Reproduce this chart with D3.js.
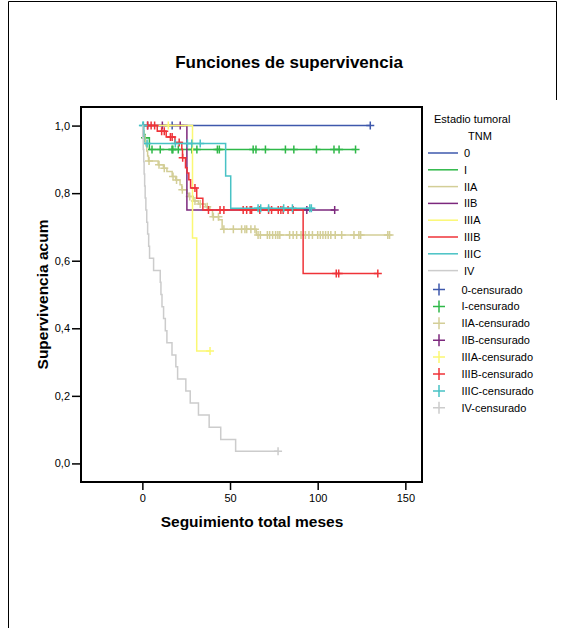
<!DOCTYPE html>
<html><head><meta charset="utf-8">
<script src="https://cdn.jsdelivr.net/npm/d3@7"></script>
<style>body{margin:0;background:#fff} text{font-family:"Liberation Sans",Arial,sans-serif;fill:#000}</style>
</head><body><svg id="c" width="561" height="628"></svg>
<script>
const groups = ["0","I","IIA","IIB","IIIA","IIIB","IIIC","IV"];
const colors = ["#3e58ac","#2eb848","#d3ce97","#7c287d","#fbf873","#ef3338","#48c2c5","#cccccc"];
const xTicks = [0,50,100,150];
const yTicks = [0,0.2,0.4,0.6,0.8,1.0];

// Stage 0
const evT_0 = [], evS_0 = [];
const cen_0 = [17,130];
// Stage I
const evT_I = [0.5,4], evS_I = [0.964,0.929];
const cen_I = [1.5,5.5,10.2,16.9,17.4,20.5,28.2,31.1,42.8,43.9,63.2,64.8,70.2,81.6,86.4,99.3,109.3,112.2,121.6];
// Stage IIA
const evT_IIA = [0.5,1,1.5,2,2.5,3,3.5,9,12,14,17,19,21.5,22.5,25.5,26.5,29,32,36,38.5,40,43.5,45.5,65];
const evS_IIA = [0.985,0.97,0.955,0.94,0.925,0.91,0.895,0.884,0.874,0.864,0.849,0.839,0.825,0.81,0.8,0.79,0.777,0.768,0.76,0.75,0.73,0.721,0.693,0.676];
const cen_IIA = [3.8,9.5,12.5,17.5,19.5,22.8,27,30,33,37,40.5,43.4,46.5,51.9,56.6,58.5,59.5,61.9,64.2,66,67.3,71.3,72.6,74.3,76,77.3,78.4,84,86,88,90.5,93,95,97,100,101.5,103,104.5,106,107.5,110,113.7,120.7,123.5,124.5,140,141];
// Stage IIB
const evT_IIB = [25.4], evS_IIB = [0.75];
const cen_IIB = [3,11.4,21.6,93.8,109.7];
// Stage IIIA
const evT_IIIA = [28.6,31], evS_IIIA = [0.667,0.333];
const cen_IIIA = [14.8,38.6];
// Stage IIIB
const evT_IIIB = [8.5,13.6,18.6,22.5,22.9,24.6,25.5,26.5,27.5,31,34.5,91.7];
const evS_IIIB = [0.983,0.966,0.95,0.93,0.905,0.875,0.86,0.84,0.815,0.785,0.75,0.5625];
const cen_IIIB = [3,5,7,11,12.5,16,17,21,23,30,37.7,44.3,46.5,57.5,59.5,61.5,62.3,67,72,73.7,77.5,79,80.3,83.1,86,110.6,112,134.3];
// Stage IIIC
const evT_IIIC = [0.8,47.5,50.4], evS_IIIC = [0.947,0.851,0.755];
const cen_IIIC = [0.3,0.6,2.7,18.8,25.7,28.2,33,66,67.5,72,80.6,85.6,95.5,96.4];
// Stage IV
const evT_IV = [0.2,0.5,0.8,1,1.3,1.6,2,2.5,3,3.6,4.1,6.4,10.2,10.6,11.2,12.1,13.1,14,16.9,19.1,20.1,24.8,27.3,32,38.1,44.7,53.2];
const evS_IV = [0.964,0.929,0.893,0.857,0.821,0.786,0.75,0.714,0.679,0.643,0.607,0.571,0.536,0.5,0.464,0.429,0.393,0.357,0.321,0.286,0.25,0.214,0.179,0.143,0.107,0.071,0.036];
const cen_IV = [77.4];

const evT = [evT_0,evT_I,evT_IIA,evT_IIB,evT_IIIA,evT_IIIB,evT_IIIC,evT_IV];
const evS = [evS_0,evS_I,evS_IIA,evS_IIB,evS_IIIA,evS_IIIB,evS_IIIC,evS_IV];
const cens = [cen_0,cen_I,cen_IIA,cen_IIB,cen_IIIA,cen_IIIB,cen_IIIC,cen_IV];

const svg = d3.select("#c");
svg.append("path").attr("d","M8.5,628 V1.5 H556.5 V100").attr("fill","none").attr("stroke","#000").attr("stroke-width",1);

const pL = 81, pR = 422, pT = 107, pB = 482;
const x = d3.scaleLinear().domain([-35,159.5]).range([pL,pR]);
const y = d3.scaleLinear().domain([-0.055,1.055]).range([pB,pT]);

svg.append("text").attr("x",289).attr("y",68).attr("text-anchor","middle")
  .style("font-size","17px").style("font-weight","bold").text("Funciones de supervivencia");

const xa = svg.append("g").attr("transform",`translate(0,${pB})`)
  .call(d3.axisBottom(x).tickValues(xTicks).tickSize(8).tickPadding(4).tickFormat(d3.format("d")));
const ya = svg.append("g").attr("transform",`translate(${pL},0)`)
  .call(d3.axisLeft(y).tickValues(yTicks).tickSize(9).tickPadding(2).tickFormat(d=>d.toFixed(1).replace(".",",")));
[xa,ya].forEach(a=>{a.select(".domain").remove();a.selectAll("line").attr("stroke","#000").attr("stroke-width",1.5);
  a.selectAll("text").style("font-size","11px").style("font-family","'Liberation Sans',Arial,sans-serif");});
svg.append("rect").attr("x",pL).attr("y",pT).attr("width",pR-pL).attr("height",pB-pT)
  .attr("fill","none").attr("stroke","#000").attr("stroke-width",2);

svg.append("text").attr("x",252).attr("y",527).attr("text-anchor","middle")
  .style("font-size","15.5px").style("font-weight","bold").text("Seguimiento total meses");
svg.append("text").attr("transform",`translate(48,${(pT+pB)/2}) rotate(-90)`).attr("text-anchor","middle")
  .style("font-size","15.5px").style("font-weight","bold").text("Supervivencia acum");

const line = d3.line().x(d=>x(d[0])).y(d=>y(d[1])).curve(d3.curveStepAfter);
function survAt(i,t){let s=1;evT[i].forEach((tt,k)=>{if(tt<=t)s=evS[i][k];});return s;}

const plot = svg.append("g");
groups.forEach((g,i)=>{
  const pts=[[0,1]];
  evT[i].forEach((t,k)=>pts.push([t,evS[i][k]]));
  const tEnd=Math.max(d3.max(cens[i])||0,d3.max(evT[i])||0);
  pts.push([tEnd,survAt(i,tEnd)]);
  plot.append("path").attr("d",line(pts)).attr("fill","none").attr("stroke",colors[i]).attr("stroke-width",1.5);
  plot.selectAll(null).data(cens[i]).enter().append("path")
    .attr("d",t=>`M${x(t)-4},${y(survAt(i,t))}h8M${x(t)},${y(survAt(i,t))-4}v8`)
    .attr("stroke",colors[i]).attr("stroke-width",1.5).attr("fill","none");
});

const lg = svg.append("g");
lg.append("text").attr("x",434).attr("y",123).style("font-size","11px").text("Estadio tumoral");
lg.append("text").attr("x",480).attr("y",140).attr("text-anchor","middle").style("font-size","11px").text("TNM");
groups.forEach((g,i)=>{
  const yy=153+i*16.8;
  lg.append("line").attr("x1",428).attr("x2",458).attr("y1",yy).attr("y2",yy).attr("stroke",colors[i]).attr("stroke-width",1.5);
  lg.append("text").attr("x",464).attr("y",yy+4).style("font-size","11px").text(g);
});
groups.forEach((g,i)=>{
  const yy=289.5+i*16.9;
  lg.append("path").attr("d",`M433,${yy}h12M439,${yy-6}v12`).attr("stroke",colors[i]).attr("stroke-width",1.5);
  lg.append("text").attr("x",461.5).attr("y",yy+4).style("font-size","11px").text(g+"-censurado");
});
</script></body></html>
